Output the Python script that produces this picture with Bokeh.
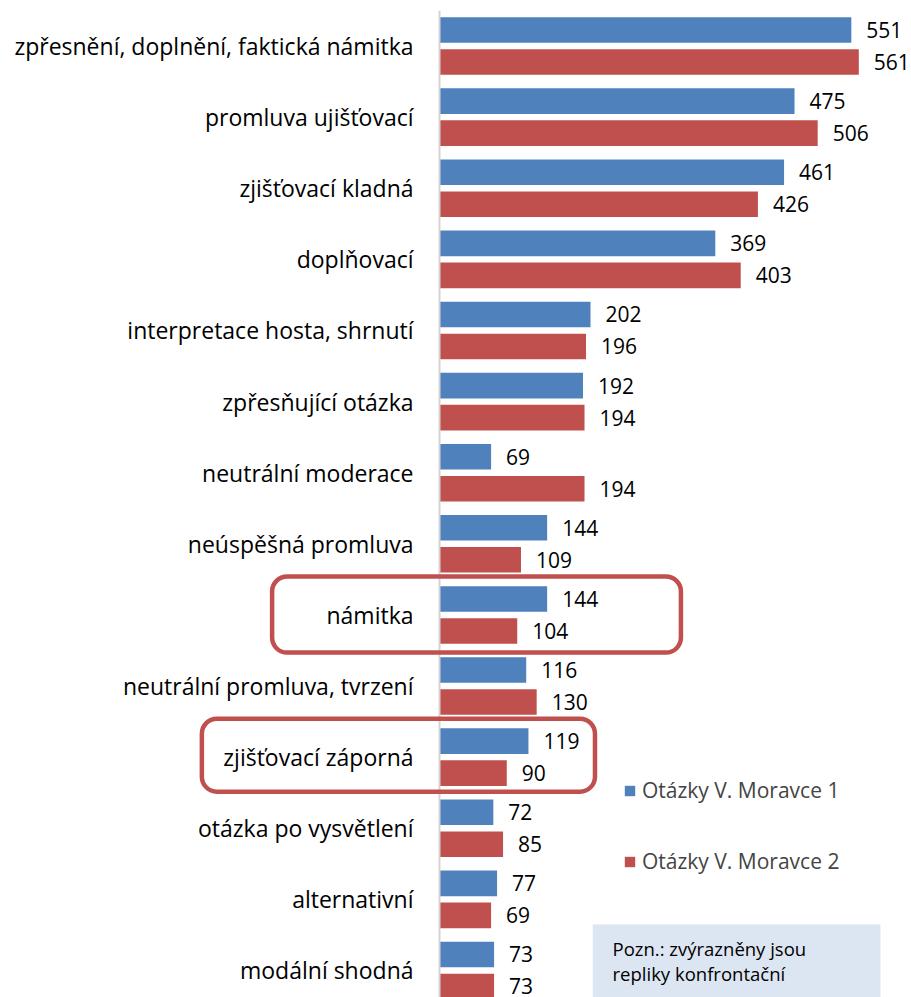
from bokeh.plotting import figure
from bokeh.models import (ColumnDataSource, Range1d, Legend, LegendItem,
                          BoxAnnotation, Label, Span)
from bokeh.transform import dodge
from bokeh.core.properties import value
from bokeh.embed import file_html
from bokeh.resources import INLINE

categories = ["zpřesnění, doplnění, faktická námitka", "promluva ujišťovací",
              "zjišťovací kladná", "doplňovací", "interpretace hosta, shrnutí",
              "zpřesňující otázka", "neutrální moderace", "neúspěšná promluva",
              "námitka", "neutrální promluva, tvrzení", "zjišťovací záporná",
              "otázka po vysvětlení", "alternativní", "modální shodná"]
series1 = [551, 475, 461, 369, 202, 192, 69, 144, 144, 116, 119, 72, 77, 73]
series2 = [561, 506, 426, 403, 196, 194, 194, 109, 104, 130, 90, 85, 69, 73]
series_names = ["Otázky V. Moravce 1", "Otázky V. Moravce 2"]
highlighted = ["námitka", "zjišťovací záporná"]
note_text = "Pozn.: zvýrazněny jsou\nrepliky konfrontační"

FONT = "Open Sans"
BLUE = "#4f81bd"
RED = "#c0504d"

idx = list(range(len(categories)))
src = ColumnDataSource(dict(
    idx=idx, cat=categories, s1=series1, s2=series2,
    l1=[str(v) for v in series1], l2=[str(v) for v in series2],
))

p = figure(width=911, height=997, output_backend="svg", toolbar_location=None,
           x_range=Range1d(-587.4, 631.5), y_range=Range1d(13.38, -0.5),
           x_axis_location=None, y_axis_location=None,
           min_border_left=0, min_border_right=0,
           min_border_top=10, min_border_bottom=0, outline_line_color=None,
           background_fill_color="white", border_fill_color="white")
p.grid.visible = False

OFF = 0.225
H = 0.36
r1 = p.hbar(y=dodge("idx", -OFF, range=p.y_range), left=0, right="s1", height=H,
            fill_color=BLUE, line_color=None, source=src)
r2 = p.hbar(y=dodge("idx", OFF, range=p.y_range), left=0, right="s2", height=H,
            fill_color=RED, line_color=None, source=src)

# value labels
for xcol, col, off in (("s1", "l1", -OFF), ("s2", "l2", OFF)):
    p.text(x=xcol, y=dodge("idx", off, range=p.y_range),
           text=col, x_offset=15, text_baseline="middle", text_align="left",
           text_font=value(FONT), text_font_size="21px", text_color="#000000",
           source=src)

# category labels (left of the vertical axis line)
p.text(x=0, y="idx", text="cat", x_offset=-26, text_align="right",
       text_baseline="middle", text_font=value(FONT), text_font_size="23px",
       text_color="#000000", source=src)

# vertical category axis line
p.add_layout(Span(location=0, dimension="height", line_color="#d4d4d4",
                  line_width=2))

# highlight frames around confrontational replies
box_ext = {"námitka": (-224, 323, -0.54, 0.53),
           "zjišťovací záporná": (-318, 208, -0.54, 0.485)}
for h in highlighted:
    i = categories.index(h)
    l, r, t, b = box_ext[h]
    p.add_layout(BoxAnnotation(left=l, right=r, top=i + t, bottom=i + b,
                               fill_alpha=0, line_color=RED, line_alpha=1,
                               line_width=4.5, border_radius=15,
                               level="overlay"))

# note box
p.add_layout(BoxAnnotation(left=205, right=590, top=12.355, bottom=None,
                           fill_color="#dce6f2", fill_alpha=1, line_color=None,
                           level="underlay"))
p.add_layout(Label(x=231.5, y=12.87, text=note_text, text_font=FONT,
                   text_font_size="18.5px", text_baseline="middle",
                   text_line_height=1.0, text_color="#000000"))

legend = Legend(items=[LegendItem(label=series_names[0], renderers=[r1]),
                       LegendItem(label=series_names[1], renderers=[r2])],
                location=(623, 122), glyph_width=13, glyph_height=13,
                label_text_font=FONT, label_text_font_size="21px",
                label_standoff=6, spacing=43, padding=0, margin=0,
                border_line_color=None, background_fill_alpha=0)
p.add_layout(legend)

open("out.html", "w").write(file_html(p, INLINE))
